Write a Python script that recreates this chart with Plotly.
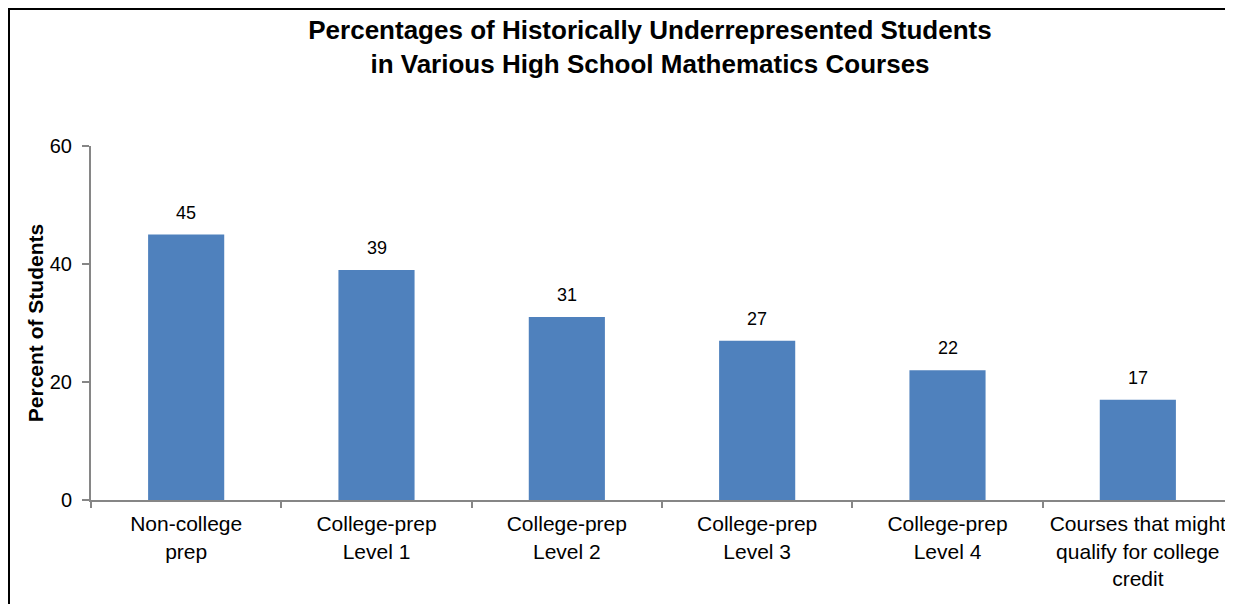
import plotly.graph_objects as go

categories = ["Non-college<br>prep", "College-prep<br>Level 1", "College-prep<br>Level 2",
              "College-prep<br>Level 3", "College-prep<br>Level 4",
              "Courses that might<br>qualify for college<br>credit"]
values = [45, 39, 31, 27, 22, 17]
y_ticks = [0, 20, 40, 60]

FONT = "Liberation Sans, Arial, sans-serif"
W, H = 1233, 604
# page body has an 8px margin; figure coords = screen coords - 8
L, R, T, B = 83, 8, 138, 112
pw, ph = W - L - R, H - T - B

def px(x):
    return (x - L) / pw

def py(y):
    return (H - B - y) / ph

fig = go.Figure(go.Bar(
    x=categories, y=values, marker=dict(color="#4F81BD", line=dict(width=0)),
    showlegend=False,
))

for c, v in zip(categories, values):
    fig.add_annotation(x=c, y=v, text=str(v), showarrow=False, yanchor="bottom",
                       yshift=10, font=dict(size=18, color="black", family=FONT))

# outer border (left and top)
fig.add_shape(type="line", xref="paper", yref="paper", x0=px(1), x1=px(1), y0=py(0), y1=py(620),
              line=dict(color="black", width=2))
fig.add_shape(type="line", xref="paper", yref="paper", x0=px(0), x1=px(1240), y0=py(1), y1=py(1),
              line=dict(color="black", width=2))

fig.update_layout(
    width=W, height=H,
    margin=dict(l=L, r=R, t=T, b=B),
    paper_bgcolor="white", plot_bgcolor="white",
    font=dict(family=FONT, color="black"),
    bargap=0.6,
    title=dict(text="<b>Percentages of Historically Underrepresented Students<br>in Various High School Mathematics Courses</b>",
               x=642 / W, xanchor="center", y=1 - 31 / H, yanchor="middle",
               font=dict(size=26, family=FONT, color="black")),
    xaxis=dict(showline=True, linecolor="#868686", linewidth=2, ticks="outside", tickson="boundaries",
               ticklen=6, tickcolor="#868686", tickwidth=2, showgrid=False, ticklabelstandoff=4,
               tickfont=dict(size=21, family=FONT, color="black")),
    yaxis=dict(range=[0, 60], tickvals=y_ticks, showline=True, linecolor="#868686", linewidth=2,
               ticks="outside", ticklen=7, tickcolor="#868686", tickwidth=2, showgrid=False,
               zeroline=False, ticklabelstandoff=6,
               tickfont=dict(size=20, family=FONT, color="black"),
               title=dict(text="<b>Percent of Students</b>", standoff=0,
                          font=dict(size=21, family=FONT, color="black"))),
)

fig.write_html("out.html")
